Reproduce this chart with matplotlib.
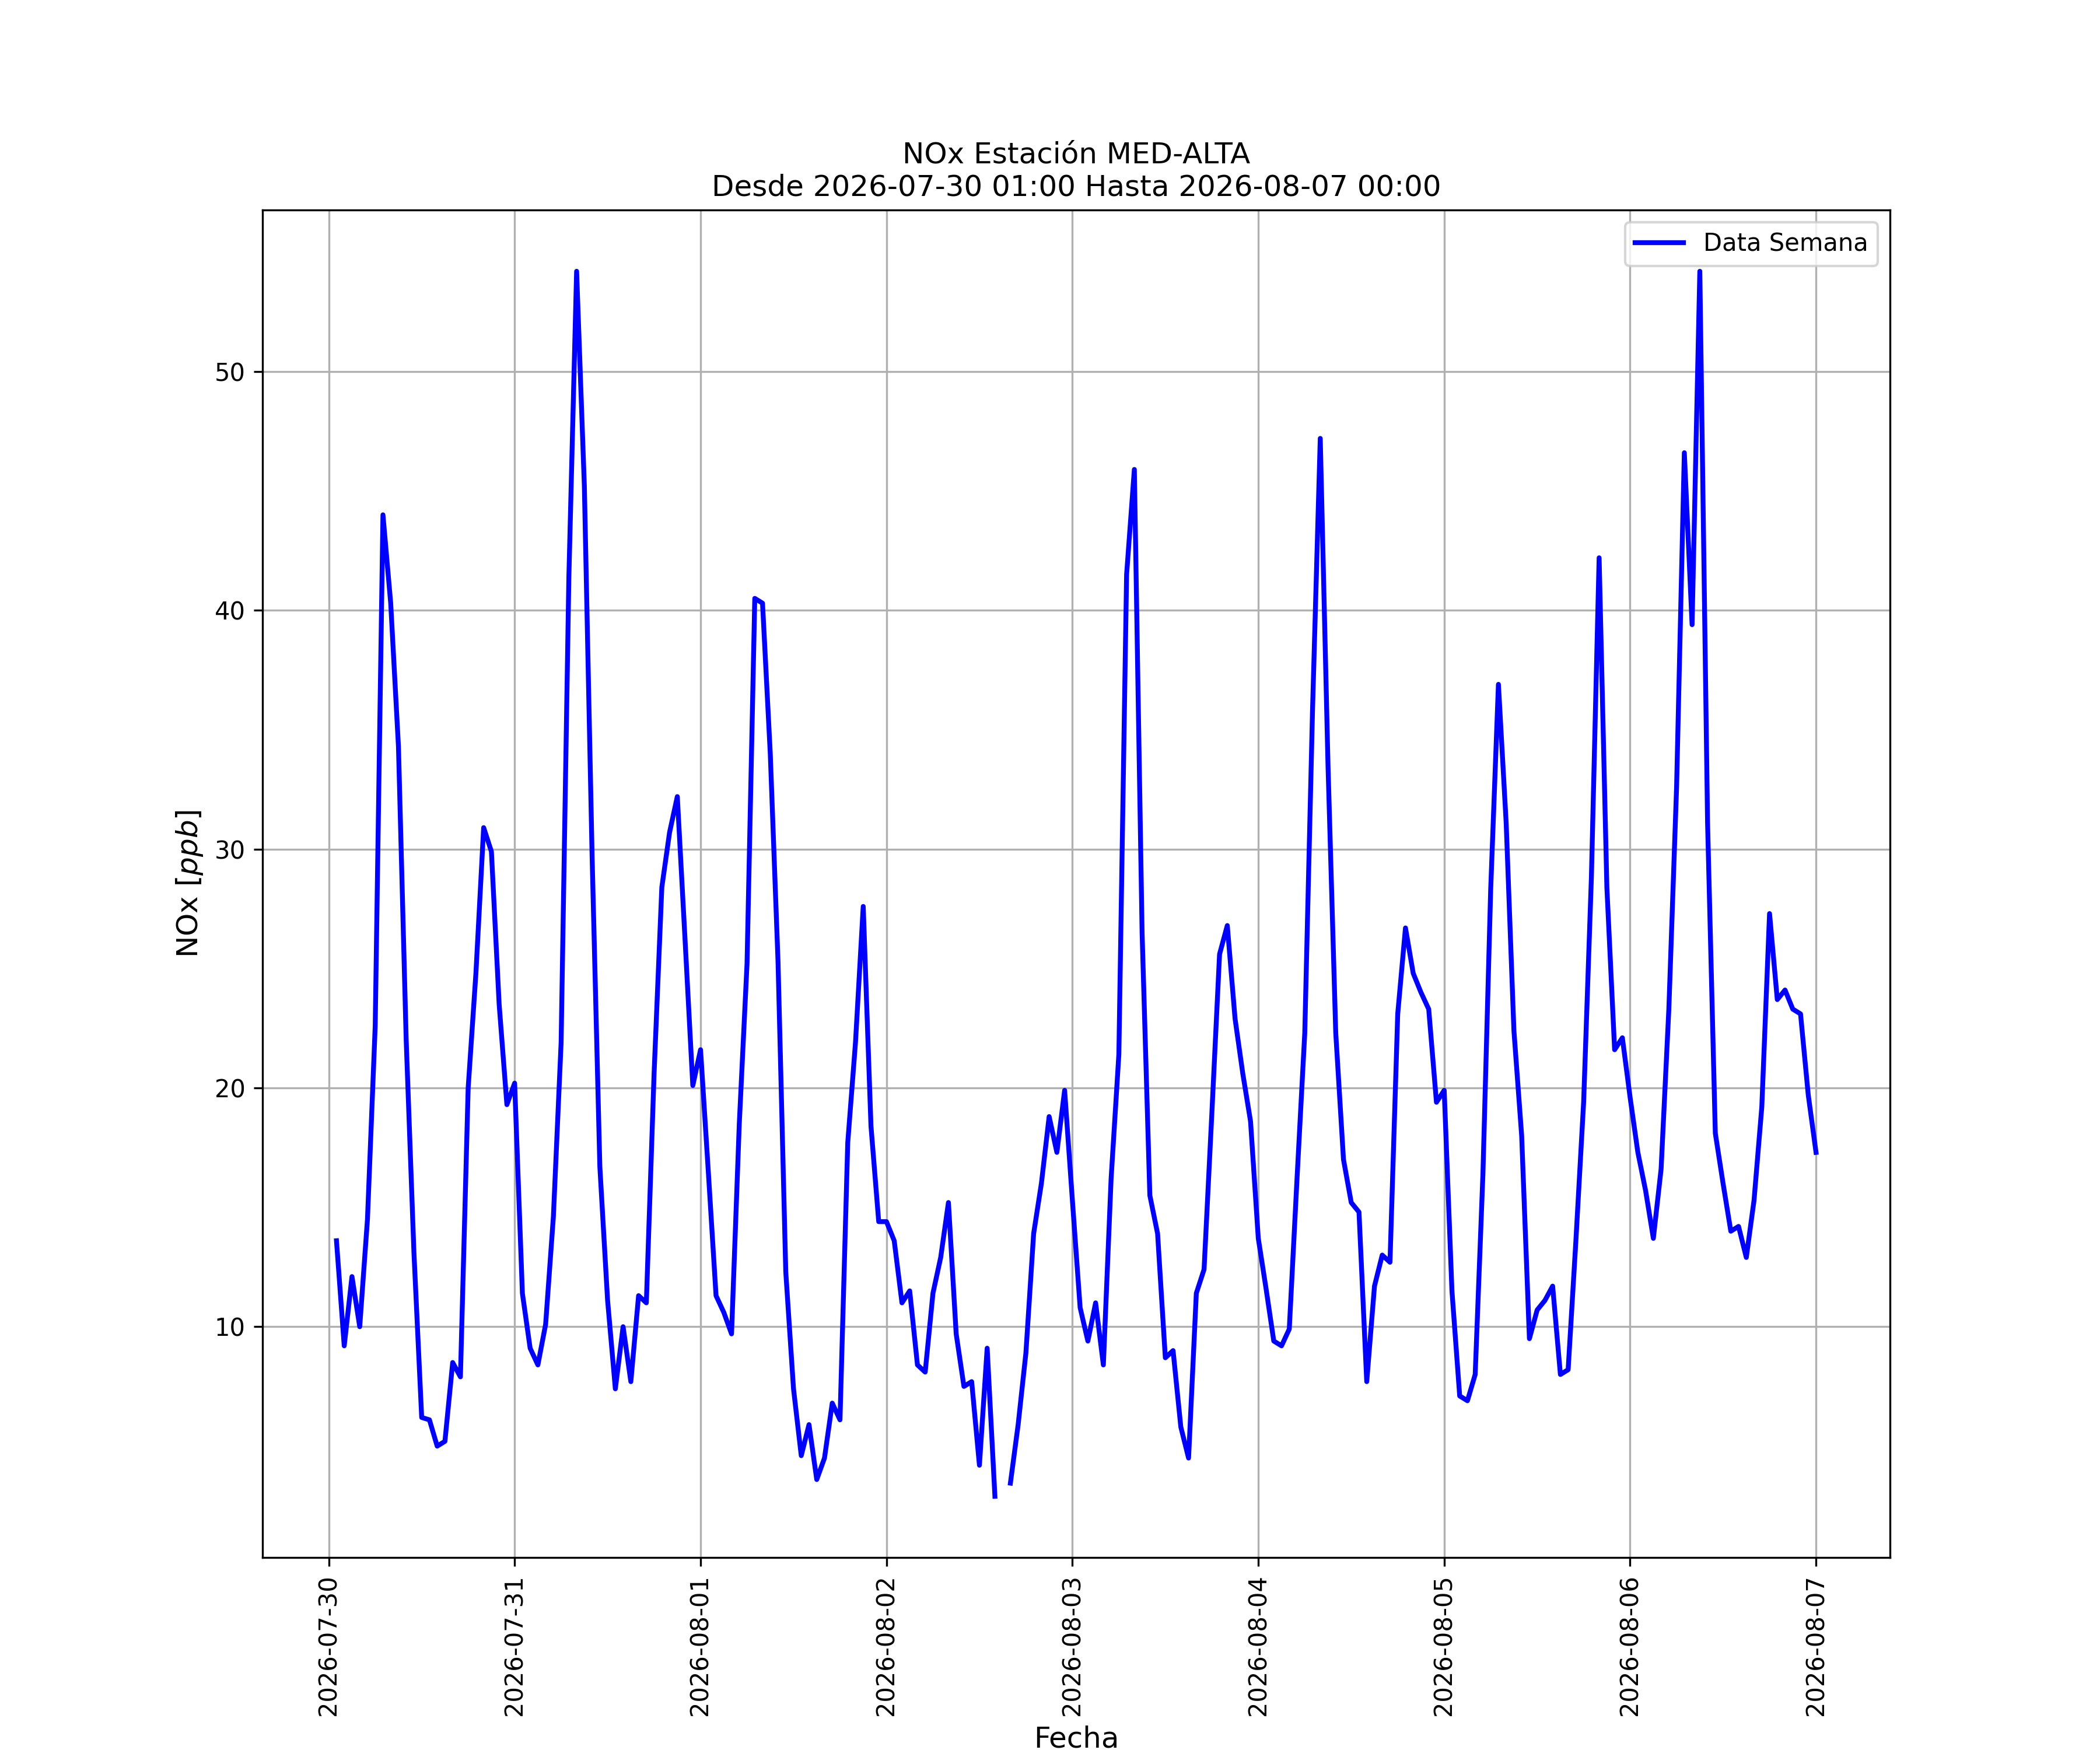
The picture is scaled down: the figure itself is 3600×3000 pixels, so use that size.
import numpy as np
import pandas as pd
import matplotlib
matplotlib.use('Agg')
import matplotlib.pyplot as plt
import matplotlib.dates as mdates

# -------------------------------------------
# hourly NOx values, 2026-07-30 01:00 .. 2026-08-07 00:00

start_time = '2026-07-30 01:00'
station = 'MED-ALTA'
series_label = 'Data Semana'

day_1 = [13.6, 9.2, 12.1, 10.0, 14.5, 22.6, 44.0, 40.3, 34.3, 22.0, 13.1, 6.2,
         6.1, 5.0, 5.2, 8.5, 7.9, 20.0, 24.8, 30.9, 29.9, 23.5, 19.3, 20.2]
day_2 = [11.4, 9.1, 8.4, 10.1, 14.6, 21.9, 41.4, 54.2, 45.2, 29.7, 16.7, 11.1,
         7.4, 10.0, 7.7, 11.3, 11.0, 20.6, 28.4, 30.7, 32.2, 26.2, 20.1, 21.6]
day_3 = [16.5, 11.3, 10.6, 9.7, 18.5, 25.2, 40.5, 40.3, 34.0, 25.3, 12.3, 7.4,
         4.6, 5.9, 3.6, 4.5, 6.8, 6.1, 17.7, 21.9, 27.6, 18.4, 14.4, 14.4]
day_4 = [13.6, 11.0, 11.5, 8.4, 8.1, 11.4, 12.9, 15.2, 9.7, 7.5, 7.7, 4.2,
         9.1, 2.9, np.nan, 3.45, 5.9, 8.9, 13.9, 16.0, 18.8, 17.3, 19.9, 15.3]
day_5 = [10.8, 9.4, 11.0, 8.4, 16.2, 21.4, 41.5, 45.9, 26.5, 15.5, 13.9, 8.7,
         9.0, 5.8, 4.5, 11.4, 12.4, 18.9, 25.6, 26.8, 22.9, 20.6, 18.6, 13.7]
day_6 = [11.6, 9.4, 9.2, 9.9, 16.2, 22.3, 35.8, 47.2, 33.5, 22.3, 17.0, 15.2,
         14.8, 7.7, 11.7, 13.0, 12.7, 23.1, 26.7, 24.8, 24.0, 23.3, 19.4, 19.9]
day_7 = [11.5, 7.1, 6.9, 8.0, 16.4, 28.3, 36.9, 31.1, 22.4, 18.0, 9.5, 10.7,
         11.1, 11.7, 8.0, 8.2, 13.6, 19.4, 28.8, 42.2, 28.4, 21.6, 22.1, 19.6]
day_8 = [17.3, 15.7, 13.7, 16.6, 23.3, 32.6, 46.6, 39.4, 54.2, 31.1, 18.1, 16.0,
         14.0, 14.2, 12.9, 15.3, 19.2, 27.3, 23.7, 24.1, 23.3, 23.1, 19.7, 17.3]

nox_values = day_1 + day_2 + day_3 + day_4 + day_5 + day_6 + day_7 + day_8
times = pd.date_range(start=start_time, periods=len(nox_values), freq='h')

# -------------------------------------------

fig, ax = plt.subplots(figsize=(12, 10), dpi=300)
ax.plot(times, nox_values, color='blue', linewidth=2, label=series_label)

desde = times[0].strftime('%Y-%m-%d %H:%M')
hasta = times[-1].strftime('%Y-%m-%d %H:%M')
ax.set_title(f'NOx Estación {station}\nDesde {desde} Hasta {hasta}', fontsize=12)
ax.set_xlabel('Fecha', fontsize=12)
ax.set_ylabel('NOx [$ppb$]', fontsize=12)

ax.xaxis.set_major_locator(mdates.DayLocator())
ax.xaxis.set_major_formatter(mdates.DateFormatter('%Y-%m-%d'))
plt.setp(ax.get_xticklabels(), rotation=90)

ax.grid(True)
ax.legend(loc='upper right')

fig.savefig('out.png', dpi=300)
